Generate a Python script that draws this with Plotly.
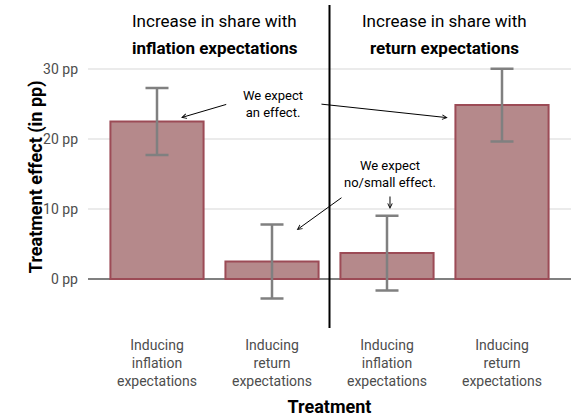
import plotly.graph_objects as go

categories = ["Inducing<br>inflation<br>expectations", "Inducing<br>return<br>expectations",
              "Inducing<br>inflation<br>expectations", "Inducing<br>return<br>expectations"]
effects = [22.5, 2.5, 3.7, 24.85]
ci_half = [4.8, 5.3, 5.35, 5.2]
y_tickvals = [0, 10, 20, 30]
y_ticktext = ["0 pp", "10 pp", "20 pp", "30 pp"]

FONT = "Roboto, sans-serif"
xpos = list(range(len(categories)))

fig = go.Figure()
fig.add_trace(go.Bar(
    x=xpos, y=effects, width=0.81,
    marker=dict(color="#b5898b", line=dict(color="#9c4b56", width=2)),
    error_y=dict(type="data", array=ci_half, visible=True, color="#808080",
                 thickness=2.5, width=11.5),
    showlegend=False, hoverinfo="skip",
))

fig.add_shape(type="line", x0=1.5, x1=1.5, y0=-7, y1=39.14, xref="x", yref="y",
              line=dict(color="black", width=2))

# headings
for xc, bold in [(0.5, "inflation expectations"), (2.5, "return expectations")]:
    fig.add_annotation(x=xc, y=(279 - 20.7) / 7, xref="x", yref="y", showarrow=False,
                       text="Increase in share with", font=dict(family=FONT, size=17, color="black"))
    fig.add_annotation(x=xc, y=(279 - 48) / 7, xref="x", yref="y", showarrow=False,
                       text="<b>" + bold + "</b>", font=dict(family=FONT, size=17, color="black"))

# y-axis title
fig.add_annotation(x=-0.1346, y=0.47, xref="paper", yref="paper", showarrow=False,
                   textangle=-90, text="<b>Treatment effect (in pp)</b>",
                   font=dict(family=FONT, size=18, color="black"))

# explanatory notes
fig.add_annotation(x=1.009, y=25.0, xref="x", yref="y", showarrow=False,
                   text="We expect<br>an effect.", font=dict(family=FONT, size=13, color="black"))
fig.add_annotation(x=2.026, y=14.93, xref="x", yref="y", showarrow=False,
                   text="We expect<br>no/small effect.", font=dict(family=FONT, size=13, color="black"))

arrows = [((0.615, 25.0), (0.209, 23.04)),
          ((1.417, 25.0), (2.528, 23.04)),
          ((1.617, 11.76), (1.215, 7.0)),
          ((2.026, 12.0), (2.026, 10.0))]
for (tx, ty), (hx, hy) in arrows:
    fig.add_annotation(x=hx, y=hy, ax=tx, ay=ty, xref="x", yref="y", axref="x", ayref="y",
                       text="", showarrow=True, arrowhead=5, arrowsize=0.9, arrowwidth=1,
                       arrowcolor="black", standoff=0, startstandoff=0)

fig.update_layout(
    width=571, height=420,
    margin=dict(l=88, r=0, t=5, b=92),
    plot_bgcolor="white", paper_bgcolor="white",
    font=dict(family=FONT, color="#4d4d4d", size=14),
    xaxis=dict(range=[-0.6, 3.6], tickvals=xpos, ticktext=categories, showgrid=False,
               zeroline=False, showline=False, ticks="", ticklabelstandoff=7,
               tickfont=dict(family=FONT, size=14, color="#4d4d4d"),
               title=dict(text="<b>Treatment</b>", font=dict(family=FONT, size=18, color="black"),
                          standoff=11)),
    yaxis=dict(range=[-7, 39.14], tickvals=y_tickvals, ticktext=y_ticktext,
               showgrid=True, gridcolor="#ebebeb", gridwidth=1.5,
               zeroline=True, zerolinecolor="#808080", zerolinewidth=2,
               showline=False, ticks="", ticklabelstandoff=9,
               tickfont=dict(family=FONT, size=14, color="#4d4d4d")),
    bargap=0.19,
)

fig.write_html("out.html")
